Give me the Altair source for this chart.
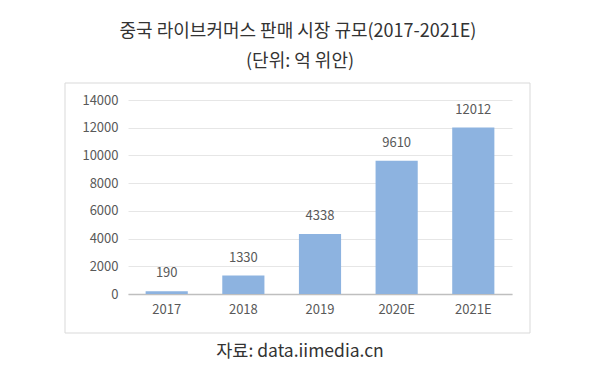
import altair as alt
import pandas as pd

years = ["2017", "2018", "2019", "2020E", "2021E"]
values = [190, 1330, 4338, 9610, 12012]
title_text = "중국 라이브커머스 판매 시장 규모(2017-2021E)"
subtitle_text = "(단위: 억 위안)"
source_text = "자료: data.iimedia.cn"
y_ticks = [0, 2000, 4000, 6000, 8000, 10000, 12000, 14000]

df = pd.DataFrame({"year": years, "value": values})
FONT = "Noto Sans CJK KR"

W, H = 384, 194

x = alt.X("year:N", sort=years, title=None,
          scale=alt.Scale(paddingInner=0.45, paddingOuter=0.23),
          axis=alt.Axis(labelAngle=0, labelFont=FONT, labelFontSize=13, labelColor="#595959",
                        ticks=False, domainColor="#bfbfbf", domainWidth=1.5, labelPadding=9))
y = alt.Y("value:Q", title=None,
          scale=alt.Scale(domain=[0, 14000]),
          axis=alt.Axis(values=y_ticks, format="d", labelOverlap=False, labelFont=FONT,
                        labelFontSize=13, labelColor="#595959",
                        ticks=False, domain=False, gridColor="#e6e6e6", labelPadding=10))

bars = alt.Chart(df).mark_bar(color="#8db3e0").encode(x=x, y=y)
labels = alt.Chart(df).mark_text(font=FONT, fontSize=13, color="#595959", baseline="bottom", dy=-11).encode(
    x=x, y=y, text="value:Q")

frame = alt.Chart(pd.DataFrame({"a": [0]})).mark_rect(fill=None, stroke="#d9d9d9", strokeWidth=1).encode(
    x=alt.value(-63), x2=alt.value(402), y=alt.value(-17), y2=alt.value(233))

t1 = alt.Chart(pd.DataFrame({"t": [title_text]})).mark_text(font=FONT, fontSize=18, color="#333333").encode(
    text="t:N", x=alt.value(170), y=alt.value(-68))
t2 = alt.Chart(pd.DataFrame({"t": [subtitle_text]})).mark_text(font=FONT, fontSize=18, color="#333333").encode(
    text="t:N", x=alt.value(172), y=alt.value(-38))
t3 = alt.Chart(pd.DataFrame({"t": [source_text]})).mark_text(font=FONT, fontSize=17.5, color="#333333").encode(
    text="t:N", x=alt.value(172), y=alt.value(252))

chart = alt.layer(frame, bars, labels, t1, t2, t3).properties(
    width=W, height=H,
    autosize=alt.AutoSizeParams(type="none"),
    padding={"left": 120, "top": 92, "right": 76, "bottom": 82},
    background="white",
).configure_view(stroke=None)

chart.save("out.html", embed_options={"renderer": "svg", "actions": False})
